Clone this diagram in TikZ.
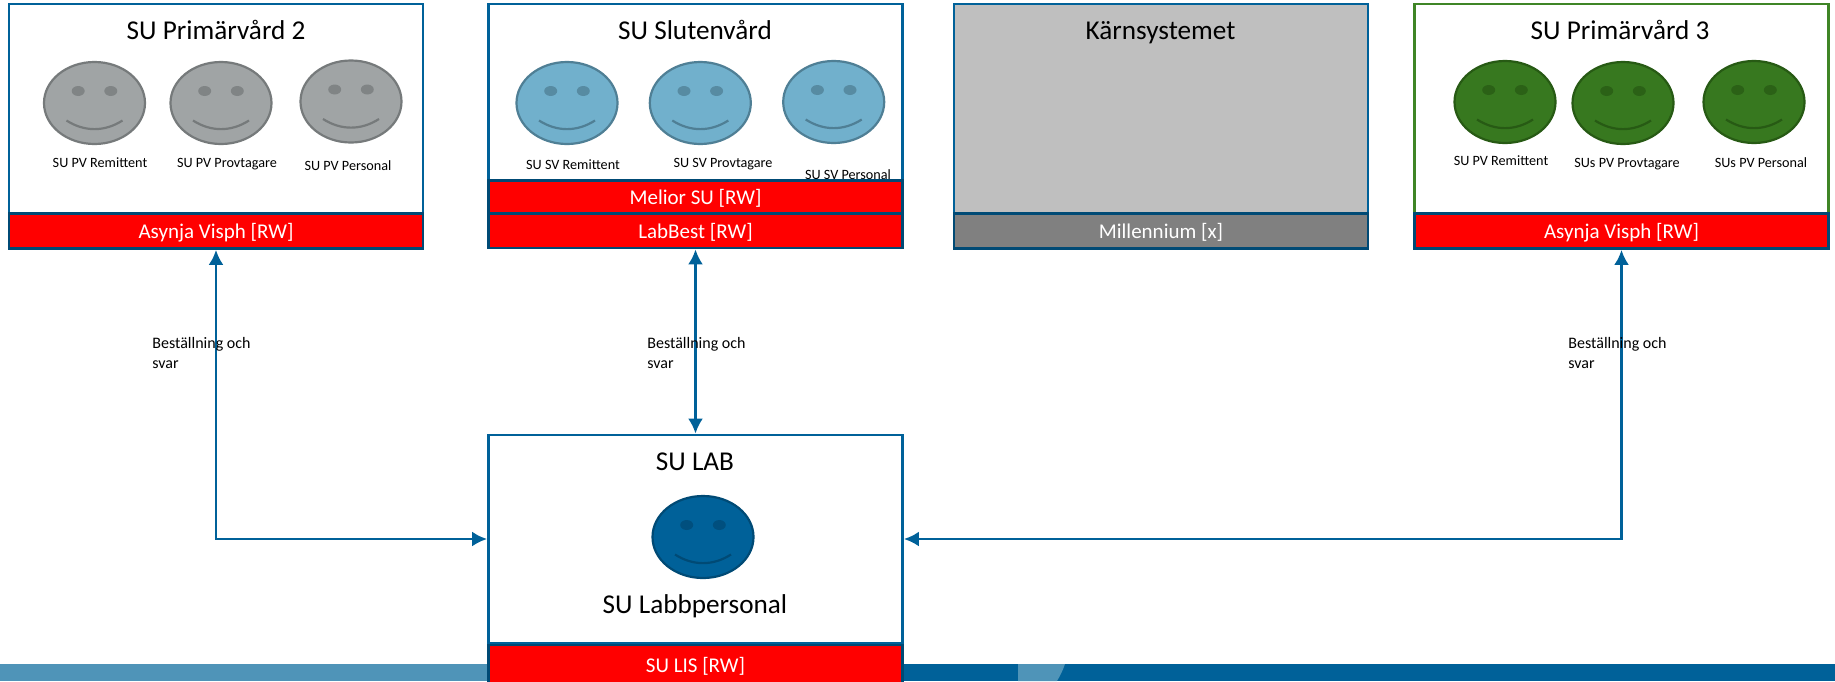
\documentclass[tikz,border=0pt]{standalone}
\usepackage{fontspec}
\setmainfont{Carlito}
\usetikzlibrary{arrows.meta,shapes.geometric}
\definecolor{lineblue}{HTML}{006199}
\definecolor{barline}{HTML}{004A75}
\definecolor{lightband}{HTML}{4F94B8}
\definecolor{lineGreen}{HTML}{3F8526}
\definecolor{faceGrey}{HTML}{A0A4A5}
\definecolor{edgeGrey}{HTML}{767A7B}
\definecolor{faceBlue}{HTML}{71B0CC}
\definecolor{edgeBlue}{HTML}{4F7F95}
\definecolor{faceGreen}{HTML}{37781F}
\definecolor{edgeGreen}{HTML}{275A14}
\definecolor{faceDark}{HTML}{006199}
\definecolor{edgeDark}{HTML}{004A75}
\tikzset{
  panel/.style={draw=lineblue,fill=white,line width=1.4pt,minimum width=207pt,inner sep=0pt},
  bar/.style={draw=barline,fill=red,line width=1.4pt,minimum width=207pt,inner sep=0pt,text=white,text height=8.5pt,text depth=1.5pt,font=\fontsize{10.5}{12}\selectfont},
  title/.style={font=\fontsize{13.6}{15}\selectfont,inner sep=0pt,text=black,anchor=base},
  small/.style={font=\fontsize{7.1}{8}\selectfont,inner sep=0pt,text=black,anchor=base},
  flow/.style={font=\fontsize{8}{10}\selectfont,inner sep=0pt,text=black,align=left,anchor=north west},
  facebody/.style={ellipse,minimum width=50.5pt,minimum height=41pt,inner sep=0pt,line width=1.1pt},
  conn/.style={draw=lineblue,line width=1.35pt,{Latex[length=7.5pt,width=7.5pt]}-{Latex[length=7.5pt,width=7.5pt]}}
}
\newcommand{\smilie}[5]{%
  \node[facebody,draw=#5,fill=#4] (#1) at (#2,#3) {};
  \begin{scope}[shift={(#2,#3)}]
    \fill[#5,opacity=.75] (-16.3,-12) ellipse [x radius=6.5,y radius=5];
    \fill[#5,opacity=.75] (16.3,-12) ellipse [x radius=6.5,y radius=5];
    \draw[#5,line width=1.1pt] (-28,17.5) .. controls (-10,29) and (10,29) .. (28,17.5);
  \end{scope}}
\begin{document}
\begin{tikzpicture}[x=0.5pt,y=-0.5pt]
\path[use as bounding box] (0,0) rectangle (1835,681);
% footer band
\fill[lightband] (0,664) rectangle (488,681);
\fill[lineblue] (903,664) rectangle (1835,681);
\fill[lightband] (1018,664) -- (1065,664) .. controls (1063,670) and (1060,676) .. (1057,681) -- (1018,681) -- cycle;

% SU Primärvård 2
\node[panel,minimum height=104.5pt] (p2) at (216,108.5) {};
\node[title] (p2t) at (216,39) {SU Primärvård 2};
\smilie{p2a}{94.5}{103}{faceGrey}{edgeGrey}
\smilie{p2b}{221}{103}{faceGrey}{edgeGrey}
\smilie{p2c}{351}{101.5}{faceGrey}{edgeGrey}
\node[small] (p2al) at (100,167) {SU PV Remittent};
\node[small] (p2bl) at (227,167) {SU PV Provtagare};
\node[small] (p2cl) at (348,170) {SU PV Personal};
\node[bar,minimum height=17.5pt] (p2bar) at (216,231) {Asynja Visph [RW]};

% SU Slutenvård
\node[panel,minimum height=104.5pt] (sv) at (695.5,108.5) {};
\node[title] (svt) at (695,39) {SU Slutenvård};
\smilie{sva}{567}{103}{faceBlue}{edgeBlue}
\smilie{svb}{700.3}{103}{faceBlue}{edgeBlue}
\smilie{svc}{833.7}{102}{faceBlue}{edgeBlue}
\node[small] (saL) at (573,169) {SU SV Remittent};
\node[small] (sbL) at (723,167) {SU SV Provtagare};
\node[small] (scL) at (848,179) {SU SV Personal};
\node[bar,minimum height=16.5pt] (melior) at (695.5,197) {Melior SU [RW]};
\node[bar,minimum height=17pt] (labbest) at (695.5,231) {LabBest [RW]};

% Kärnsystemet
\node[panel,fill=black!25,minimum height=104.5pt] (core) at (1161,108.5) {};
\node[title] (coret) at (1160.5,39) {Kärnsystemet};
\node[bar,fill=black!50,minimum height=17.5pt] (mill) at (1161,231) {Millennium [x]};

% SU Primärvård 3
\node[panel,draw=lineGreen,minimum height=104.5pt] (p3) at (1621.5,108.5) {};
\node[title] (p3t) at (1620,39) {SU Primärvård 3};
\smilie{p3a}{1505}{102}{faceGreen}{edgeGreen}
\smilie{p3b}{1623}{103}{faceGreen}{edgeGreen}
\smilie{p3c}{1754}{102}{faceGreen}{edgeGreen}
\node[small] (p3al) at (1501,165) {SU PV Remittent};
\node[small] (p3bl) at (1627,167) {SUs PV Provtagare};
\node[small] (p3cl) at (1761,167) {SUs PV Personal};
\node[bar,minimum height=17.5pt] (p3bar) at (1621.5,231) {Asynja Visph [RW]};

% SU LAB
\node[panel,minimum height=104pt] (lab) at (695.5,539) {};
\node[title] (labt) at (695,470) {SU LAB};
\smilie{labf}{703}{537}{faceDark}{edgeDark}
\node[title] (labl) at (695,613) {SU Labbpersonal};
\node[bar,minimum height=20.5pt] (lis) at (695.5,665.5) {\fontsize{10.5}{12}\selectfont SU LIS [RW]};

% connectors
\draw[conn] (p2bar.south) |- (lab.west);
\draw[conn] (labbest.south) -- (lab.north);
\draw[conn] (p3bar.south) |- (lab.east);

\node[flow] (f1) at (152,337) {Beställning och\\svar};
\node[flow] (f2) at (647,337) {Beställning och\\svar};
\node[flow] (f3) at (1568,337) {Beställning och\\svar};
\end{tikzpicture}
\end{document}
